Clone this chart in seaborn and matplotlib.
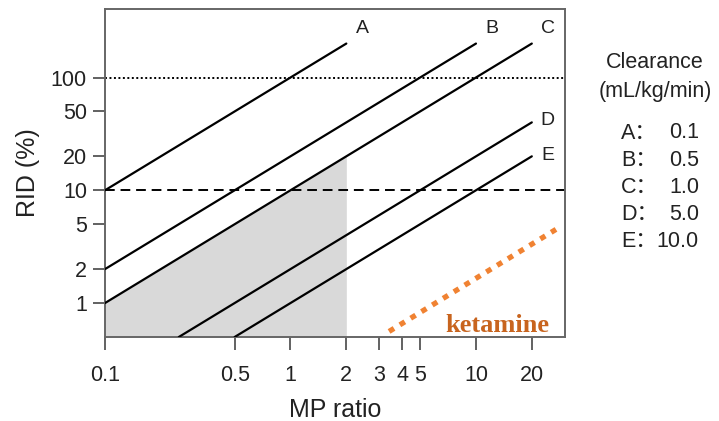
import matplotlib
matplotlib.use("Agg")
import matplotlib.pyplot as plt
import seaborn as sns
import pandas as pd
import numpy as np

sns.set_theme(style="white")
plt.rcParams["font.family"] = ["Liberation Sans", "Noto Sans CJK SC", "DejaVu Sans"]

# Clearance lines (RID vs MP ratio), start and end points on log-log axes
line_ids = ["A", "B", "C", "D", "E"]
clearance = ["0.1", "0.5", "1.0", "5.0", "10.0"]
mp_start = [0.1, 0.1, 0.1, 0.25, 0.5]
mp_end = [2, 10, 20, 20, 20]
rid_start = [10, 2, 1, 0.5, 0.5]
rid_end = [200, 200, 200, 40, 20]

# Ketamine reference line
ket_mp = [3.4, 27]
ket_rid = [0.56, 4.5]

# Shaded region under line C up to MP ratio 2
shade_mp = [0.1, 2]
shade_rid = [1, 20]

x_ticks = [0.1, 0.5, 1, 2, 3, 4, 5, 10, 20]
x_ticklabels = ["0.1", "0.5", "1", "2", "3", "4", "5", "10", "20"]
y_ticks = [1, 2, 5, 10, 20, 50, 100]
y_ticklabels = ["1", "2", "5", "10", "20", "50", "100"]

rows = []
for lid, x0, x1, y0, y1 in zip(line_ids, mp_start, mp_end, rid_start, rid_end):
    rows.append({"line": lid, "MP": x0, "RID": y0})
    rows.append({"line": lid, "MP": x1, "RID": y1})
df = pd.DataFrame(rows)
ket = pd.DataFrame({"MP": ket_mp, "RID": ket_rid})

fig = plt.figure(figsize=(7.19, 4.21), dpi=100)
ax = fig.add_axes([105 / 719, 1 - 337 / 421, 460 / 719, 328 / 421])
ax.set_xscale("log")
ax.set_yscale("log")
xmin, xmax = 0.1, 30.2
ymin, ymax = 0.5, 405
ax.set_xlim(xmin, xmax)
ax.set_ylim(ymin, ymax)

ax.fill_between(shade_mp, [ymin, ymin], shade_rid, color="#d9d9d9", lw=0, zorder=1)

ax.axhline(100, color="black", lw=1.4, ls=(0, (1, 1.3)), zorder=2)
ax.axhline(10, color="black", lw=1.4, ls=(0, (5, 3)), zorder=2)

sns.lineplot(data=df, x="MP", y="RID", units="line", estimator=None,
             color="black", lw=1.6, ax=ax, zorder=3, legend=False)

sns.lineplot(data=ket, x="MP", y="RID", color="#f08232", lw=3.8,
             ls=(0, (1.1, 1.3)), ax=ax, zorder=3, legend=False)
ax.lines[-1].set_dash_capstyle("butt")

# Line labels placed just beyond each line's upper end
label_off = {"A": (11.5, 11), "B": (11.5, 11), "C": (11.5, 11), "D": (11.5, 1.5), "E": (11.5, 0.5)}
for lid, x1, y1 in zip(line_ids, mp_end, rid_end):
    ax.annotate(lid, (x1, y1), xytext=label_off[lid],
                textcoords="offset points", ha="center", va="center",
                fontsize=14, color="#222222")

ax.text(0.967, 0.016, "ketamine", transform=ax.transAxes, ha="right", va="baseline",
        fontsize=19, fontweight="bold", family="Liberation Serif", color="#c8641e")

ax.set_xticks(x_ticks)
ax.set_xticklabels(x_ticklabels)
ax.set_yticks(y_ticks)
ax.set_yticklabels(y_ticklabels)
ax.minorticks_off()
ax.tick_params(axis="both", which="major", direction="out", length=9, width=1.3,
               color="#555555", labelsize=15.5, labelcolor="#222222",
               bottom=True, left=True)
ax.tick_params(axis="x", pad=11)
ax.tick_params(axis="y", pad=4)
for sp in ax.spines.values():
    sp.set_visible(True)
    sp.set_color("#666666")
    sp.set_linewidth(1.4)

ax.set_xlabel("MP ratio", fontsize=18, color="#222222", labelpad=9)
ax.set_ylabel("RID (%)", fontsize=18, color="#222222", labelpad=8)

# Clearance key on the right
fig.text(655 / 719, 1 - 63 / 421, "Clearance", ha="center", va="center",
         fontsize=15.5, color="#222222")
fig.text(655 / 719, 1 - 92 / 421, "(mL/kg/min)", ha="center", va="center",
         fontsize=15.5, color="#222222")
for i, (lid, cl) in enumerate(zip(line_ids, clearance)):
    yy = 1 - (133 + 27.2 * i) / 421
    fig.text(621 / 719, yy, lid + "\uff1a", ha="left", va="center", fontsize=15.5,
             color="#222222", family=["Liberation Sans", "Noto Sans CJK SC"])
    fig.text(699 / 719, yy, cl, ha="right", va="center", fontsize=15.5, color="#222222")

fig.savefig("out.png", dpi=100)
